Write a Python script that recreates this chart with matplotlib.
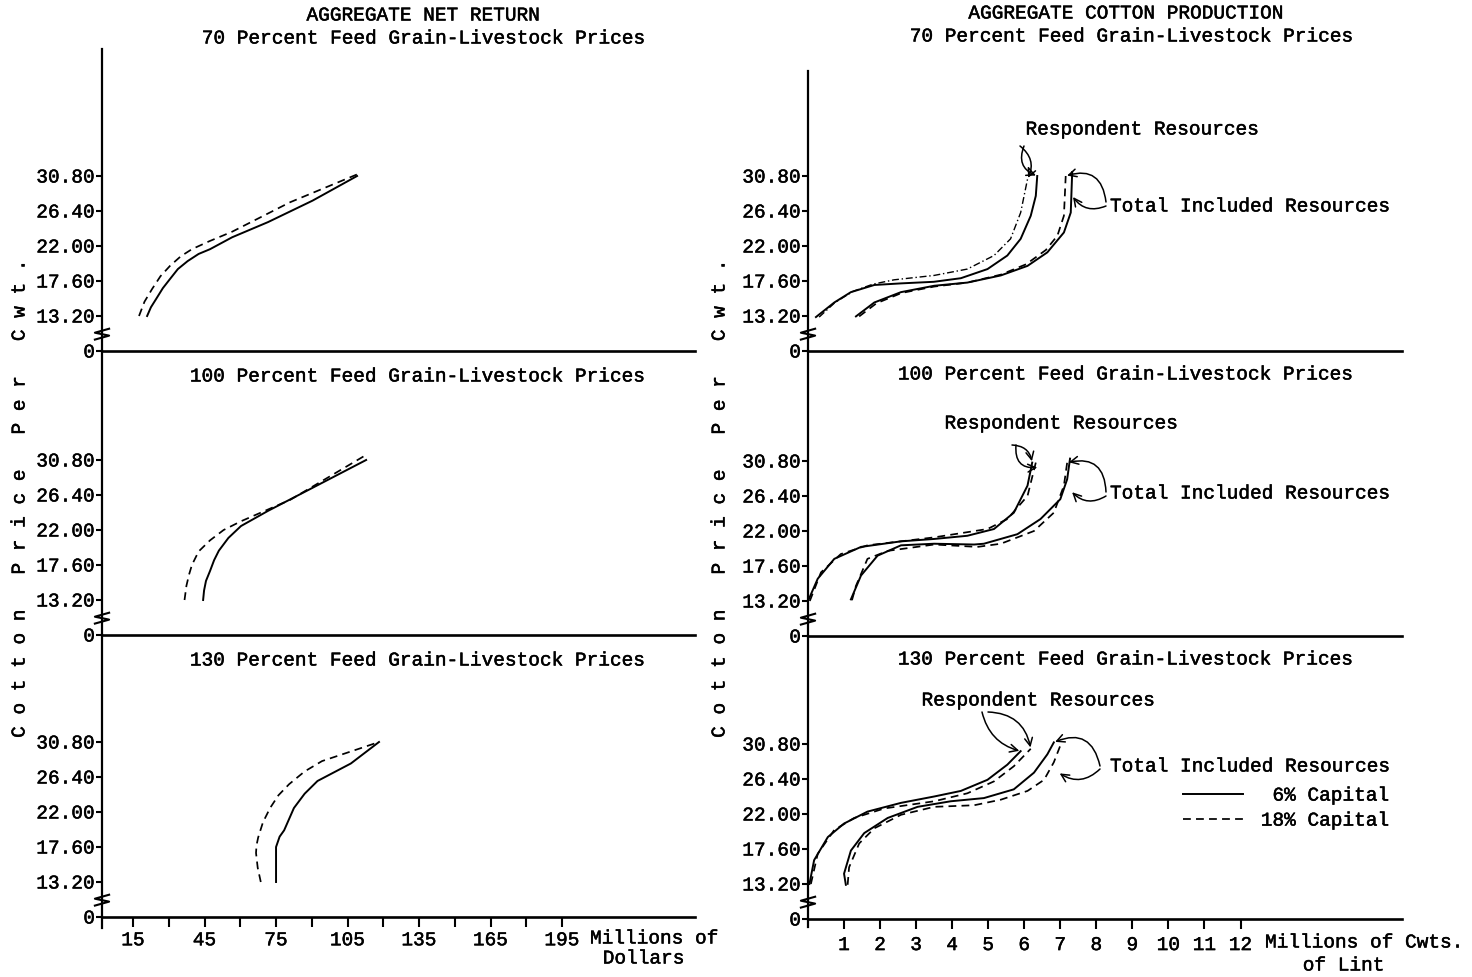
import numpy as np
import matplotlib
matplotlib.use('Agg')
import matplotlib.pyplot as plt
import matplotlib.patheffects as pe
from matplotlib.lines import Line2D
from matplotlib.text import Text
from matplotlib.ticker import NullLocator

plt.rcParams['font.family'] = ['Liberation Mono', 'DejaVu Sans Mono']
plt.rcParams['font.size'] = 14

# ---- data (x, cotton price per cwt) ----
price_ticks = [0, 13.2, 17.6, 22.0, 26.4, 30.8]
price_labels = ['0', '13.20', '17.60', '22.00', '26.40', '30.80']
dollar_major = [15, 45, 75, 105, 135, 165, 195]
dollar_minor = [30, 60, 90, 120, 150, 180]
lint_ticks = [1, 2, 3, 4, 5, 6, 7, 8, 9, 10, 11, 12]

# aggregate net return, millions of dollars
nr70_x6 = [20.9, 22.5, 24.6, 27.5, 30.5, 33.8, 37.9, 42.5, 47.3, 56.6, 71.6, 90.3, 109]
nr70_p6 = [13.2, 14.3, 15.3, 16.7, 17.85, 19.1, 20.1, 21.0, 21.6, 23.1, 25.0, 27.7, 30.8]
nr70_x18 = [17.5, 19.8, 23, 26.5, 30.5, 35.0, 39.7, 47.0, 56.6, 80.9, 109]
nr70_p18 = [13.2, 15.0, 16.6, 18.2, 19.5, 20.7, 21.6, 22.6, 23.8, 27.5, 31.0]

nr100_x6 = [44.4, 44.8, 45.6, 47.3, 49.0, 51, 55.0, 60.3, 71.6, 90.3, 112.8]
nr100_p6 = [13.2, 14.4, 15.6, 16.85, 18.2, 19.4, 21.0, 22.5, 24.4, 27.3, 30.8]
nr100_x18 = [36.6, 37.4, 38.5, 39.7, 42.5, 47.3, 53.0, 60.3, 81, 112]
nr100_p18 = [13.2, 15.0, 16.4, 17.6, 19.3, 20.7, 22.0, 23.1, 25.8, 31.3]

nr130_x6 = [75.0, 75.0, 75.0, 76.5, 78.4, 82.5, 87.0, 92.4, 106.4, 118.2]
nr130_p6 = [13.2, 15.5, 17.6, 18.9, 19.7, 22.5, 24.3, 25.9, 28.1, 30.8]
nr130_x18 = [68.6, 67.3, 66.6, 66.8, 67.5, 69.5, 72.5, 76.0, 80.5, 87.0, 94.3, 110.3, 118.2]
nr130_p18 = [13.2, 15.0, 16.85, 17.8, 18.8, 20.7, 22.5, 24.1, 25.5, 27.1, 28.4, 30.0, 30.8]

# aggregate cotton production, millions of cwts of lint
# rr = respondent resources, tir = total included resources
cp70_rr6_x = [0.22, 0.73, 1.19, 1.84, 2.58, 3.49, 4.24, 4.98, 5.53, 5.9, 6.18, 6.32, 6.36]
cp70_rr6_p = [12.8, 14.9, 16.2, 17.1, 17.3, 17.5, 17.95, 19.1, 20.8, 22.9, 25.8, 28.3, 30.8]
cp70_rr18_x = [0.31, 0.75, 1.25, 1.8, 2.39, 3.5, 4.42, 5.16, 5.62, 5.9, 6.09]
cp70_rr18_p = [12.8, 14.9, 16.3, 17.2, 17.75, 18.3, 19.1, 20.8, 22.9, 26.2, 30.4]
cp70_tir6_x = [1.33, 1.84, 2.58, 3.5, 4.42, 5.35, 6.09, 6.64, 7.1, 7.29, 7.33]
cp70_tir6_p = [13.05, 14.9, 16.2, 17.0, 17.4, 18.3, 19.5, 21.2, 23.7, 26.2, 31.3]
cp70_tir18_x = [1.42, 1.9, 2.6, 3.5, 4.42, 5.35, 6.05, 6.6, 6.92, 7.1, 7.15]
cp70_tir18_p = [13.05, 14.8, 16.1, 16.9, 17.4, 18.4, 19.7, 21.5, 23.3, 25.8, 30.8]

cp100_rr6_x = [0.0, 0.27, 0.73, 1.47, 2.58, 3.5, 4.42, 5.16, 5.71, 6.09, 6.22]
cp100_rr6_p = [13.2, 16.0, 18.5, 20.0, 20.7, 21.0, 21.4, 22.25, 24.3, 27.7, 30.6]
cp100_rr18_x = [0.05, 0.36, 0.91, 1.65, 3.5, 4.98, 5.53, 6.09, 6.32]
cp100_rr18_p = [13.2, 16.8, 19.1, 20.2, 21.2, 22.25, 23.5, 26.4, 30.6]
cp100_tir6_x = [1.19, 1.47, 1.93, 2.58, 3.5, 4.61, 4.88, 5.81, 6.45, 7.0, 7.19, 7.27]
cp100_tir6_p = [13.4, 16.4, 18.9, 20.2, 20.4, 20.3, 20.4, 21.6, 23.5, 26.0, 28.5, 31.1]
cp100_tir18_x = [1.22, 1.33, 1.65, 2.21, 3.5, 4.7, 5.35, 6.27, 6.82, 7.1, 7.19]
cp100_tir18_p = [13.3, 15.1, 18.5, 19.5, 20.3, 20.0, 20.4, 22.0, 24.3, 27.7, 30.6]

cp130_rr6_x = [0.04, 0.17, 0.55, 1.0, 1.65, 2.58, 3.5, 4.24, 4.98, 5.53, 5.9]
cp130_rr6_p = [13.2, 16.2, 19.1, 20.8, 22.3, 23.4, 24.2, 24.9, 26.3, 28.2, 29.9]
cp130_rr18_x = [0.08, 0.27, 0.73, 1.28, 2.12, 3.5, 4.42, 5.16, 5.71, 6.18]
cp130_rr18_p = [13.2, 17.0, 20.0, 21.5, 22.7, 23.6, 24.6, 26.1, 28.0, 30.2]
cp130_tir6_x = [1.05, 1.0, 1.19, 1.56, 2.21, 3.04, 3.96, 4.88, 5.71, 6.27, 6.64, 6.82]
cp130_tir6_p = [12.9, 14.5, 17.4, 19.6, 21.5, 22.9, 23.6, 24.0, 25.1, 27.2, 29.5, 31.0]
cp130_tir18_x = [1.1, 1.14, 1.42, 1.84, 2.58, 3.5, 4.61, 5.35, 6.09, 6.55, 6.82, 7.0]
cp130_tir18_p = [12.9, 15.3, 18.3, 20.2, 21.9, 22.9, 23.1, 23.8, 24.9, 26.3, 28.5, 30.6]


# broken price axis: 0 -> 13.20 squeezed into one tick step
def fwd(p):
    p = np.asarray(p, dtype=float)
    return np.where(p < 13.2, p / 13.2, (p - 8.8) / 4.4)


def inv(i):
    i = np.asarray(i, dtype=float)
    return np.where(i < 1, i * 13.2, 8.8 + 4.4 * i)


W, H = 1472, 978
fig = plt.figure(figsize=(W / 100, H / 100), dpi=100)
fig.patch.set_facecolor('white')

SOLID = dict(color='black', lw=1.4)
DASH = dict(color='black', lw=1.25, ls=(0, (4.5, 3)))


def make_ax(x0, x1, ytop, ybot, xmin, xmax):
    ax = fig.add_axes([x0 / W, 1 - ybot / H, (x1 - x0) / W, (ybot - ytop) / H])
    ax.set_yscale('function', functions=(fwd, inv))
    ax.set_xlim(xmin, xmax)
    ax.set_ylim(0, float(inv((ybot - ytop) / 35.0)))
    ax.spines['top'].set_visible(False)
    ax.spines['right'].set_visible(False)
    ax.spines['left'].set_linewidth(1.6)
    ax.spines['bottom'].set_linewidth(1.9)
    ax.set_yticks(price_ticks)
    ax.set_yticklabels(price_labels)
    ax.yaxis.set_minor_locator(NullLocator())
    ax.tick_params(axis='y', direction='out', length=4, width=1.5, pad=1, labelsize=14)
    ax.set_xticks([])
    ax.patch.set_alpha(0)
    # axis break mark
    ax.plot([-0.012, 0.012, -0.012, 0.012], [4.3, 5.8, 6.9, 8.4],
            transform=ax.get_yaxis_transform(), color='black', lw=1.5, clip_on=False)
    return ax


def txt(x, y, s, ha='center', **kw):
    fig.text(x / W, 1 - y / H, s, ha=ha, va='center', **kw)


def arrow(ax, tip, start, rad):
    ax.annotate('', xy=tip, xycoords='data', xytext=(start[0], H - start[1]),
                textcoords='figure pixels', annotation_clip=False,
                arrowprops=dict(arrowstyle='->', color='black', lw=1.1,
                                connectionstyle='arc3,rad=%s' % rad,
                                shrinkA=0, shrinkB=1))


# ---- left column: aggregate net return ----
l1 = make_ax(102, 695, 50, 352, 1.97, 250.8)
l2 = make_ax(102, 695, 352, 636, 1.97, 250.8)
l3 = make_ax(102, 695, 636, 918, 1.97, 250.8)

l1.plot(nr70_x6, nr70_p6, **SOLID)
l1.plot(nr70_x18, nr70_p18, **DASH)
l2.plot(nr100_x6, nr100_p6, **SOLID)
l2.plot(nr100_x18, nr100_p18, **DASH)
l3.plot(nr130_x6, nr130_p6, **SOLID)
l3.plot(nr130_x18, nr130_p18, **DASH)

l3.set_xticks(dollar_major)
l3.set_xticklabels([str(v) for v in dollar_major])
l3.set_xticks(dollar_minor, minor=True)
l3.tick_params(axis='x', which='both', direction='out', length=7, width=1.5, pad=4, labelsize=14)
# vertical axis runs a little past the bottom baseline
l3.plot([0, 0], [0, -0.04], transform=l3.transAxes, color='black', lw=1.6, clip_on=False)

# ---- right column: aggregate cotton production ----
r1 = make_ax(808, 1402, 72, 352, 0.0, 16.48)
r2 = make_ax(808, 1402, 352, 637, 0.0, 16.48)
r3 = make_ax(808, 1402, 637, 920, 0.0, 16.48)

r1.plot(cp70_rr6_x, cp70_rr6_p, **SOLID)
r1.plot(cp70_rr18_x, cp70_rr18_p, color='black', lw=1.0, ls=(0, (5, 2, 1, 2)))
r1.plot(cp70_tir6_x, cp70_tir6_p, **SOLID)
r1.plot(cp70_tir18_x, cp70_tir18_p, **DASH)

r2.plot(cp100_rr6_x, cp100_rr6_p, **SOLID)
r2.plot(cp100_rr18_x, cp100_rr18_p, **DASH)
r2.plot(cp100_tir6_x, cp100_tir6_p, **SOLID)
r2.plot(cp100_tir18_x, cp100_tir18_p, **DASH)

r3.plot(cp130_rr6_x, cp130_rr6_p, **SOLID)
r3.plot(cp130_rr18_x, cp130_rr18_p, **DASH)
r3.plot(cp130_tir6_x, cp130_tir6_p, **SOLID)
r3.plot(cp130_tir18_x, cp130_tir18_p, **DASH)

r3.set_xticks(lint_ticks)
r3.set_xticklabels([str(v) for v in lint_ticks])
r3.tick_params(axis='x', direction='out', length=7, width=1.5, pad=6, labelsize=14)
r3.plot([0, 0], [0, -0.03], transform=r3.transAxes, color='black', lw=1.6, clip_on=False)

# ---- hand-drawn style pointers ----
arrow(r1, (6.09, 30.4), (1020, 147), -0.4)
arrow(r1, (6.36, 30.8), (1024, 147), 0.5)
arrow(r1, (7.15, 30.8), (1106, 203), 0.6)
arrow(r1, (7.33, 28.3), (1106, 207), -0.4)

arrow(r2, (6.22, 30.6), (1012, 446), -0.4)
arrow(r2, (6.4, 30.0), (1016, 446), 0.6)
arrow(r2, (7.2, 30.6), (1106, 493), 0.6)
arrow(r2, (7.3, 27.0), (1106, 497), -0.4)

arrow(r3, (5.9, 29.9), (982, 713), 0.3)
arrow(r3, (6.18, 30.2), (988, 713), -0.4)
arrow(r3, (6.82, 31.0), (1100, 767), 0.6)
arrow(r3, (6.95, 27.2), (1100, 770), -0.4)

# ---- titles and labels ----
txt(424, 17, 'AGGREGATE NET RETURN')
txt(425, 40, '70 Percent Feed Grain-Livestock Prices')
txt(419, 378, '100 Percent Feed Grain-Livestock Prices')
txt(419, 662, '130 Percent Feed Grain-Livestock Prices')

txt(1127, 15, 'AGGREGATE COTTON PRODUCTION')
txt(1133, 38, '70 Percent Feed Grain-Livestock Prices')
txt(1127, 376, '100 Percent Feed Grain-Livestock Prices')
txt(1127, 661, '130 Percent Feed Grain-Livestock Prices')

txt(1143, 131, 'Respondent Resources')
txt(1110, 208, 'Total Included Resources', ha='left')
txt(1062, 425, 'Respondent Resources')
txt(1110, 495, 'Total Included Resources', ha='left')
txt(1039, 702, 'Respondent Resources')
txt(1110, 768, 'Total Included Resources', ha='left')

ylab = 'C o t t o n   P r i c e   P e r   C w t .'
txt(20, 498, ylab, rotation=90)
txt(720, 498, ylab, rotation=90)

txt(590, 940, 'Millions of', ha='left')
txt(685, 960, 'Dollars', ha='right')
txt(1265, 944, 'Millions of Cwts.', ha='left')
txt(1385, 967, 'of Lint', ha='right')

handles = [Line2D([], [], **SOLID), Line2D([], [], **DASH)]
fig.legend(handles, [' 6% Capital', '18% Capital'], loc='upper left',
           bbox_to_anchor=(1183 / W, 1 - 788 / H), frameon=False,
           handlelength=3.1, handletextpad=0.9, borderpad=0, borderaxespad=0,
           labelspacing=0.38, fontsize=14)

# typewriter ink is a bit heavier than the plain font
for t in fig.findobj(Text):
    t.set_path_effects([pe.withStroke(linewidth=0.35, foreground='black')])

fig.savefig('out.png', dpi=100, facecolor='white')
